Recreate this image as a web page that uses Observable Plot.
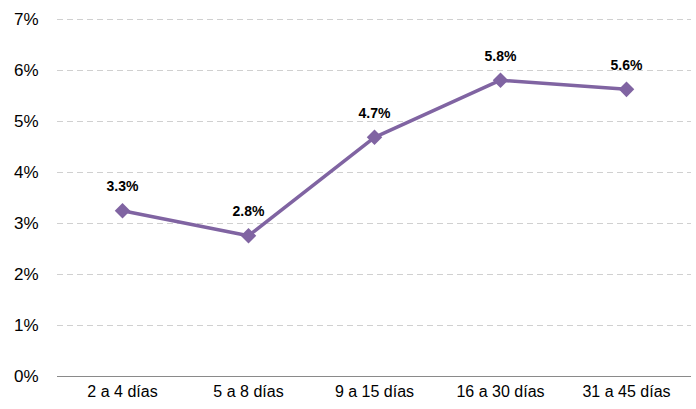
<!DOCTYPE html>
<html><head><meta charset="utf-8">
<script src="https://cdn.jsdelivr.net/npm/d3@7"></script>
<script src="https://cdn.jsdelivr.net/npm/@observablehq/plot@0.6"></script>
<style>body{margin:0;background:#fff}</style>
</head><body><div id="chart"></div>
<script>
const categories = ["2 a 4 días", "5 a 8 días", "9 a 15 días", "16 a 30 días", "31 a 45 días"];
const values = [0.0325, 0.0276, 0.0469, 0.0581, 0.0563];
const labels = ["3.3%", "2.8%", "4.7%", "5.8%", "5.6%"];
const yTicks = [0, 0.01, 0.02, 0.03, 0.04, 0.05, 0.06, 0.07];
const data = categories.map((c, i) => ({cat: c, v: values[i], label: labels[i]}));
const font = "'Liberation Sans Narrow', 'Arial Narrow', 'Liberation Sans', Arial, sans-serif";
const chart = Plot.plot({
  width: 696, height: 409,
  marginLeft: 57, marginRight: 5, marginTop: 19, marginBottom: 33,
  style: {fontFamily: font, fontSize: "16px", color: "#000", background: "#fff"},
  x: {domain: categories, type: "point", padding: 0.5, label: null},
  y: {domain: [0, 0.07], label: null},
  marks: [
    Plot.gridY(yTicks.slice(1), {stroke: "#d0d0d0", strokeOpacity: 1, strokeDasharray: "6,4", strokeWidth: 1}),
    Plot.ruleY([0], {stroke: "#8a8a8a", strokeWidth: 1.2}),
    Plot.axisY(yTicks, {tickSize: 0, tickPadding: 19, tickFormat: d => Math.round(d * 100) + "%", fontSize: 17, label: null}),
    Plot.axisX({tickSize: 0, tickPadding: 9, fontSize: 16, label: null}),
    Plot.line(data, {x: "cat", y: "v", stroke: "#8064a2", strokeWidth: 3.5}),
    Plot.dot(data, {x: "cat", y: "v", symbol: "diamond2", r: 7, fill: "#8064a2", stroke: "none"}),
    Plot.text(data, {x: "cat", y: "v", text: "label", dy: -24, fontWeight: "bold", fontSize: 14, fill: "#000"})
  ]
});
document.getElementById("chart").append(chart);
</script></body></html>
